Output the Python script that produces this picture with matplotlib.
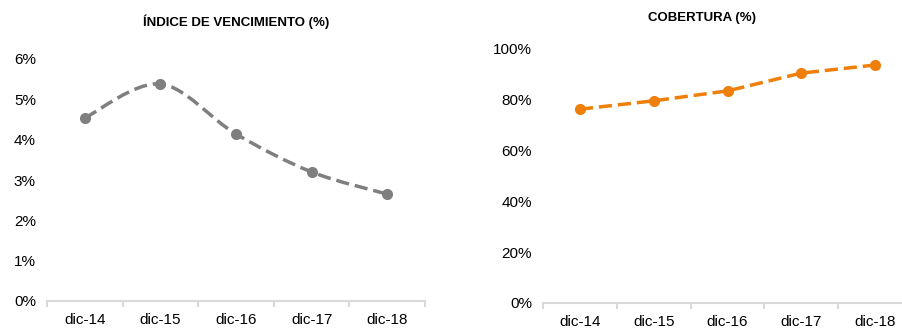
import numpy as np
import matplotlib.pyplot as plt
from matplotlib.path import Path
from matplotlib.patches import PathPatch
from matplotlib.ticker import FuncFormatter, FixedLocator

plt.rcParams['font.family'] = ['Liberation Sans', 'DejaVu Sans']

periodos = ['dic-14', 'dic-15', 'dic-16', 'dic-17', 'dic-18']
vencimiento = [4.54, 5.38, 4.14, 3.20, 2.65]
cobertura = [76.3, 79.6, 83.5, 90.5, 93.7]

GRIS = '#7f7f7f'
NARANJA = '#ef7f0a'
EJE = '#d9d9d9'
DASH = (0, (3.8, 1.7))


def smooth_path(x, y, t=1 / 6):
    # Excel-style smoothed line as cubic Bezier segments
    verts = [(x[0], y[0])]
    codes = [Path.MOVETO]
    n = len(x)
    for i in range(n - 1):
        x0, y0 = (x[i - 1], y[i - 1]) if i > 0 else (x[i], y[i])
        x3, y3 = (x[i + 2], y[i + 2]) if i + 2 < n else (x[i + 1], y[i + 1])
        c1 = (x[i] + (x[i + 1] - x0) * t, y[i] + (y[i + 1] - y0) * t)
        c2 = (x[i + 1] - (x3 - x[i]) * t, y[i + 1] - (y3 - y[i]) * t)
        verts += [c1, c2, (x[i + 1], y[i + 1])]
        codes += [Path.CURVE4] * 3
    return Path(verts, codes)


def style_axis(ax, ymax, step):
    ax.set_xlim(-0.5, 4.5)
    ax.set_ylim(0, ymax)
    ax.set_yticks(np.arange(0, ymax + step / 2, step))
    ax.yaxis.set_major_formatter(FuncFormatter(lambda v, p: f'{v:.0f}%'))
    ax.set_xticks(range(len(periodos)))
    ax.set_xticklabels(periodos)
    ax.xaxis.set_minor_locator(FixedLocator(np.arange(-0.5, 5, 1)))
    for s in ['top', 'right', 'left']:
        ax.spines[s].set_visible(False)
    ax.spines['bottom'].set_color(EJE)
    ax.spines['bottom'].set_linewidth(1.5)
    ax.tick_params(axis='x', which='major', length=0, pad=9, labelsize=11, colors='black')
    ax.tick_params(axis='x', which='minor', length=4, width=1.5, color=EJE)
    ax.tick_params(axis='y', length=0, pad=8, labelsize=11, colors='black')


fig = plt.figure(figsize=(9.03, 3.28), dpi=100)

# Left: maturity index, smoothed gray dashed line
ax1 = fig.add_axes([47 / 903, 27 / 328, 378 / 903, 242 / 328])
x = np.arange(len(periodos))
ax1.add_patch(PathPatch(smooth_path(x, vencimiento), fill=False, edgecolor=GRIS,
                        lw=2.5, linestyle=DASH, capstyle='butt'))
ax1.plot(x, vencimiento, linestyle='none', marker='o', markersize=7, color=GRIS)
style_axis(ax1, 6, 1)
ax1.set_title('ÍNDICE DE VENCIMIENTO (%)', fontsize=9.5, fontweight='bold', pad=24)

# Right: coverage, orange dashed line
ax2 = fig.add_axes([543 / 903, 25 / 328, 369 / 903, 254 / 328])
ax2.plot(x, cobertura, linestyle=DASH, lw=2.5, marker='o', markersize=7,
         color=NARANJA, dash_capstyle='butt')
style_axis(ax2, 100, 20)
ax2.set_title('COBERTURA (%)', fontsize=9.5, fontweight='bold', pad=20, x=(702 - 543) / 369)

fig.savefig('out.png', dpi=100)
